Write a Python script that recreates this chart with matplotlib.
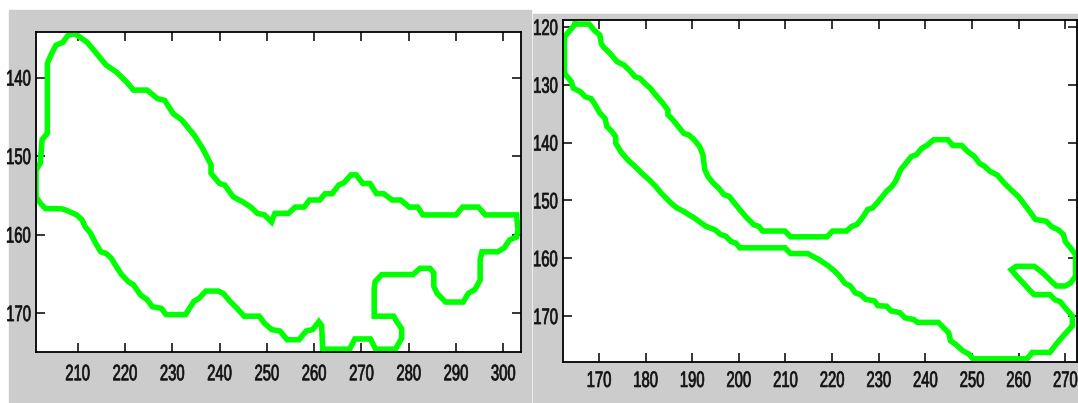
import matplotlib
matplotlib.use('Agg')
import matplotlib.pyplot as plt
from matplotlib.patches import Rectangle
from matplotlib.patheffects import AbstractPathEffect
from matplotlib.transforms import Affine2D

# ------------------------------  contour data (x, y) ------------------------------
left_x = [209.4, 212.0, 213.4, 216.0, 218.2, 220.4, 221.8, 224.7, 226.9, 228.4, 230.2, 232.0,
          234.6, 236.4, 238.2, 238.2, 240.0, 241.1, 242.9, 244.8, 246.6, 248.0, 249.5, 251.0,
          251.7, 254.6, 256.0, 257.9, 259.0, 261.2, 262.3, 263.8, 265.2, 266.3, 267.8, 268.9,
          270.3, 271.8, 273.2, 274.7, 276.5, 278.3, 280.1, 281.9, 283.0, 290.0, 291.4, 294.7,
          296.2, 302.8, 303.1, 302.8, 301.3, 300.2, 298.8, 295.5, 295.1, 295.1, 294.0, 292.6,
          291.5, 287.8, 286.0, 285.3, 285.3, 284.5, 282.4, 280.9, 274.3, 272.9, 272.7, 272.7,
          276.8, 277.6, 278.5, 278.5, 277.2, 273.0, 271.9, 268.6, 267.5, 261.8, 261.6, 261.0,
          259.7, 258.3, 256.8, 254.3, 252.8, 251.0, 249.5, 248.4, 245.2, 243.7, 242.2, 240.8,
          239.7, 237.1, 235.7, 234.6, 232.8, 228.7, 227.7, 225.8, 224.7, 223.3, 221.8, 220.7,
          219.3, 218.2, 217.1, 216.0, 214.9, 213.8, 212.7, 211.6, 210.9, 209.8, 207.6, 206.5,
          203.2, 202.1, 201.2, 201.2, 202.1, 202.5, 203.6, 203.6, 204.3, 205.4, 206.9, 208.0,
          209.4]
left_y = [134.4, 135.5, 136.5, 138.4, 139.3, 140.6, 141.6, 141.6, 142.7, 142.9, 144.6, 145.4,
          147.3, 149.0, 151.1, 152.2, 153.5, 153.7, 155.2, 155.8, 156.5, 157.3, 157.5, 158.4,
          157.3, 157.3, 156.5, 156.5, 155.6, 155.6, 154.8, 154.8, 153.7, 153.4, 152.4, 152.4,
          153.5, 153.5, 154.8, 154.8, 155.6, 155.6, 156.5, 156.5, 157.5, 157.5, 156.5, 156.5,
          157.5, 157.5, 159.4, 160.3, 160.7, 161.7, 162.2, 162.2, 163.2, 165.8, 167.0, 167.5,
          168.6, 168.6, 167.5, 166.6, 164.9, 164.3, 164.3, 165.1, 165.1, 166.0, 167.0, 170.4,
          170.4, 171.2, 172.0, 173.2, 174.6, 174.6, 173.3, 173.3, 174.6, 174.6, 171.6, 171.1,
          172.1, 172.3, 173.4, 173.4, 172.3, 172.1, 171.3, 170.4, 170.4, 169.4, 168.5, 167.5,
          167.2, 167.2, 168.1, 168.5, 170.2, 170.2, 169.4, 169.2, 168.3, 167.7, 166.4, 166.0,
          165.1, 164.1, 163.0, 162.4, 162.2, 161.1, 159.8, 159.0, 158.1, 157.5, 156.9, 156.7,
          156.7, 156.0, 155.2, 151.8, 150.9, 147.9, 147.1, 138.2, 137.2, 135.9, 135.5, 134.6,
          134.4]

right_x = [164.9, 167.9, 169.0, 170.2, 170.5, 170.9, 172.4, 173.9, 175.4, 176.9, 177.7, 178.8,
           179.9, 181.0, 182.2, 183.7, 184.8, 184.8, 185.9, 187.0, 188.2, 189.3, 190.4, 191.6,
           192.3, 192.7, 193.4, 194.5, 195.7, 196.8, 197.9, 199.1, 200.2, 201.7, 203.2, 204.3,
           205.1, 209.9, 211.1, 218.9, 220.1, 223.1, 224.2, 225.3, 226.5, 227.6, 228.7, 230.2,
           231.7, 232.8, 233.6, 234.7, 235.8, 237.0, 238.1, 239.2, 240.3, 241.8, 244.8, 245.9,
           247.8, 249.0, 250.5, 251.6, 252.7, 253.9, 255.4, 256.9, 258.4, 259.9, 261.8, 263.6,
           265.9, 267.0, 268.5, 269.6, 270.0, 271.1, 272.2, 272.2, 271.1, 270.0, 268.1, 267.0,
           265.9, 265.1, 264.0, 263.3, 259.5, 258.4, 259.9, 261.0, 262.2, 263.3, 266.7, 267.8,
           268.9, 270.0, 271.5, 271.5, 269.6, 267.8, 266.7, 262.9, 261.8, 250.2, 249.4, 248.0,
           246.5, 245.4, 245.0, 243.5, 242.8, 238.3, 237.5, 235.6, 234.5, 232.6, 231.7, 229.8,
           229.1, 227.2, 226.1, 225.0, 223.9, 222.7, 221.6, 220.5, 219.3, 218.2, 217.1, 215.9,
           214.8, 211.1, 209.9, 200.2, 199.4, 198.3, 197.2, 196.1, 194.9, 193.0, 191.9, 190.4,
           189.3, 188.2, 186.7, 185.5, 184.4, 183.3, 182.2, 180.7, 179.2, 177.7, 176.2, 174.7,
           173.6, 173.6, 172.8, 171.7, 171.3, 170.2, 169.0, 168.3, 167.1, 166.0, 164.5, 164.1,
           162.6, 162.6, 163.8, 164.9]
right_y = [119.5, 119.5, 120.6, 121.4, 122.9, 123.4, 124.6, 126.0, 126.6, 127.8, 128.6, 128.9,
           129.8, 130.6, 131.8, 133.2, 134.4, 135.2, 136.1, 137.2, 138.4, 138.7, 139.5, 140.7,
           142.1, 144.7, 145.9, 147.0, 147.9, 149.0, 149.3, 150.5, 151.6, 153.0, 154.2, 154.5,
           155.3, 155.3, 156.3, 156.3, 155.3, 155.3, 154.5, 154.2, 153.0, 151.6, 151.3, 149.9,
           148.4, 147.6, 146.7, 144.7, 143.6, 142.4, 142.1, 141.0, 140.5, 139.5, 139.5, 140.5,
           140.5, 141.5, 142.4, 143.6, 144.1, 145.0, 145.6, 147.0, 148.2, 149.3, 151.3, 153.3,
           153.6, 154.5, 155.1, 155.9, 157.1, 158.2, 159.4, 163.1, 164.3, 164.8, 164.8, 164.0,
           163.1, 162.5, 161.8, 161.4, 161.4, 162.0, 163.4, 164.3, 165.4, 166.3, 166.3, 167.2,
           167.5, 168.6, 170.0, 171.7, 173.4, 175.1, 176.3, 176.3, 177.4, 177.4, 176.6, 176.0,
           174.9, 174.3, 172.9, 171.7, 171.1, 171.1, 170.6, 170.3, 169.4, 169.1, 168.3, 168.2,
           167.4, 167.1, 166.3, 166.0, 164.8, 164.3, 163.1, 162.2, 161.4, 160.8, 160.2, 159.7,
           159.2, 159.2, 158.2, 158.2, 157.4, 157.1, 156.2, 155.9, 155.1, 154.5, 153.9, 153.0,
           152.5, 151.9, 151.3, 150.5, 149.6, 148.7, 147.6, 146.4, 145.3, 144.1, 143.0, 141.6,
           140.1, 139.0, 138.1, 137.2, 135.8, 134.9, 133.2, 132.4, 132.1, 131.2, 130.6, 129.5,
           128.0, 121.7, 120.6, 119.5]

left_xticks = [210, 220, 230, 240, 250, 260, 270, 280, 290, 300]
left_yticks = [140, 150, 160, 170]
right_xticks = [170, 180, 190, 200, 210, 220, 230, 240, 250, 260, 270]
right_yticks = [120, 130, 140, 150, 160, 170]


class Squeeze(AbstractPathEffect):
    """Draw text narrower and taller (condensed look), scaled about its centre."""

    def __init__(self, sx=0.82, sy=1.24, stroke=0.5):
        super().__init__()
        self.sx, self.sy, self.stroke = sx, sy, stroke

    def draw_path(self, renderer, gc, tpath, affine, rgbFace=None):
        ext = affine.transform_path(tpath).get_extents()
        cx, cy = ext.x0 + ext.width / 2, ext.y0 + ext.height / 2
        t = affine + Affine2D().translate(-cx, -cy).scale(self.sx, self.sy).translate(cx, cy)
        gc0 = renderer.new_gc()
        gc0.copy_properties(gc)
        gc0.set_linewidth(self.stroke)
        gc0.set_foreground(rgbFace)
        renderer.draw_path(gc0, tpath, t, rgbFace)
        gc0.restore()


W, H = 1078, 403
fig = plt.figure(figsize=(W / 100, H / 100), dpi=100)
fig.patch.set_facecolor('white')

# grey figure backgrounds (MATLAB style)
fig.add_artist(Rectangle((9 / W, 0), (531 - 9) / W, (H - 10) / H,
                         transform=fig.transFigure, color='#cccccc', zorder=0))
fig.add_artist(Rectangle((533 / W, 0), (W - 533) / W, (H - 14) / H,
                         transform=fig.transFigure, color='#cccccc', zorder=0))


def style(ax, xticks, yticks, xpad):
    ax.set_facecolor('white')
    ax.set_xticks(xticks)
    ax.set_yticks(yticks)
    ax.tick_params(direction='in', length=6.5, width=1.1, top=True, right=True,
                   labeltop=False, labelright=False, colors='black')
    ax.tick_params(axis='x', pad=xpad)
    ax.tick_params(axis='y', pad=1.8)
    for lab in ax.get_xticklabels() + ax.get_yticklabels():
        lab.set_fontfamily(['Liberation Sans', 'DejaVu Sans'])
        lab.set_fontsize(13)
        lab.set_color('#111111')
        lab.set_path_effects([Squeeze()])
    for sp in ax.spines.values():
        sp.set_linewidth(1.3)
        sp.set_color('black')


# left panel
ax1 = fig.add_axes([36 / W, (H - 352.3) / H, 485.3 / W, 320.3 / H])
ax1.plot(left_x, left_y, color='#00ff00', linewidth=4.0, solid_joinstyle='miter')
ax1.set_xlim(201.2, 303.8)
ax1.set_ylim(175.0, 134.2)
style(ax1, left_xticks, left_yticks, 9.7)

# right panel
ax2 = fig.add_axes([563 / W, (H - 362.3) / H, 513.5 / W, 342.3 / H])
ax2.plot(right_x, right_y, color='#00ff00', linewidth=4.0, solid_joinstyle='miter')
ax2.set_xlim(162.3, 272.4)
ax2.set_ylim(178.0, 118.8)
style(ax2, right_xticks, right_yticks, 7.3)

fig.savefig('out.png', dpi=100, facecolor='white')
